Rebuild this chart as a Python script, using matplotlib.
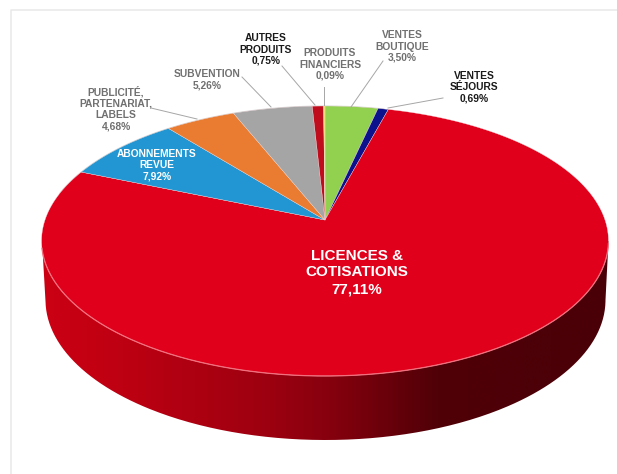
import numpy as np
import matplotlib
matplotlib.use("Agg")
import matplotlib.pyplot as plt
from matplotlib.patches import Polygon, PathPatch
from matplotlib.path import Path
from matplotlib.colors import LinearSegmentedColormap

plt.rcParams['font.family'] = ['Liberation Sans', 'DejaVu Sans']

# ---- data, clockwise from the top of the pie ----
categories = ["VENTES\nBOUTIQUE", "VENTES\nSÉJOURS", "LICENCES &\nCOTISATIONS",
              "ABONNEMENTS\nREVUE", "PUBLICITÉ,\nPARTENARIAT,\nLABELS", "SUBVENTION",
              "AUTRES\nPRODUITS", "PRODUITS\nFINANCIERS"]
values = [3.50, 0.69, 77.11, 7.92, 4.68, 5.26, 0.75, 0.09]
value_labels = ["3,50%", "0,69%", "77,11%", "7,92%", "4,68%", "5,26%", "0,75%", "0,09%"]
colors = ["#92D050", "#0B128C", "#E0001B", "#2196D2", "#E97C30", "#A5A5A5", "#C00D1E", "#F5E46B"]

# ---- layout ----
label_pos = [(402, 46.5), (474, 87), (357, 272.5), (157, 165.5), (116, 108.5), (207, 79.5), (266, 49.5), (330, 64.5)]
label_col = ["#707070", "#1A1A1A", "white", "white", "#707070", "#707070", "#1A1A1A", "#707070"]
label_size = [7.4, 7.4, 11, 7.4, 7.4, 7.4, 7.4, 7.4]
leaders = [((383, 61), (351, 107)), ((443, 98), (388, 108)), None, None,
           ((151, 108), (197, 119)), ((242, 77), (271, 107)), ((282, 66), (315, 105)), ((324, 87), (324, 105))]

CX, APEX_Y, K = 325.0, 220.0, 280.0      # centre of the disc in perspective
A, C = -97.5, 42 / 270                   # perspective terms

def project(theta):
    """theta in radians, clockwise from the far side of the disc."""
    u, v = np.sin(theta), np.cos(theta)
    w = 1 + C * v
    return CX + K * u / w, (A * v + APEX_Y) / w

fig = plt.figure(figsize=(6.17, 4.74), dpi=100, facecolor="white")
ax = fig.add_axes([0, 0, 1, 1])
ax.set_xlim(0, 617)
ax.set_ylim(474, 0)
ax.axis("off")

# frame of the original picture
ax.plot([10.5, 10.5, 617], [474, 10, 10], color="#E8E8E8", lw=1.1, zorder=0, solid_capstyle="butt")

# ---- side wall with horizontal shading ----
side_cmap = LinearSegmentedColormap.from_list("side", [
    (0.00, "#CC0014"), (0.15, "#BC0012"), (0.40, "#9C0010"), (0.50, "#88000E"),
    (0.62, "#66000A"), (0.70, "#500007"), (1.00, "#4A0007")])
grad = np.linspace(0, 1, 400)[None, :]
t = np.linspace(0, np.pi, 300)
wall_x = np.r_[42.0, 325.5 - 280 * np.cos(t), 608.5]
wall_y = np.r_[241.0, 300 + 140 * np.sin(t), 241.0]
im = ax.imshow(grad, extent=(42, 609, 474, 0), cmap=side_cmap, aspect="auto", zorder=1, interpolation="bilinear")
clip = PathPatch(Path(np.c_[wall_x, wall_y]), transform=ax.transData, fc="none", ec="none")
ax.add_patch(clip)
im.set_clip_path(clip)
ax.set_xlim(0, 617)
ax.set_ylim(474, 0)

# ---- top face ----
edges = np.radians(np.r_[0, np.cumsum(values)] * 3.6)
for i, col in enumerate(colors):
    th = np.linspace(edges[i], edges[i + 1], max(4, int(values[i] * 8)))
    px, py = project(th)
    ax.add_patch(Polygon(np.c_[np.r_[CX, px], np.r_[APEX_Y, py]], closed=True, fc=col,
                         ec="#F0D8DA", lw=0.25, zorder=2, joinstyle="round"))

# rim highlight on the near edge
th = np.linspace(np.radians(100), np.radians(258), 300)
rx, ry = project(th)
ax.plot(rx, ry, color="#F2707E", lw=0.9, zorder=3)
th = np.linspace(np.radians(-78), np.radians(14), 200)
rx, ry = project(th)
ax.plot(rx, ry, color="#D9D9D9", lw=0.8, zorder=1.5)

# ---- leaders and labels ----
for seg in leaders:
    if seg:
        ax.plot([seg[0][0], seg[1][0]], [seg[0][1], seg[1][1]], color="#A6A6A6", lw=0.7, zorder=4)

for name, val, (x, y), c, s in zip(categories, value_labels, label_pos, label_col, label_size):
    ax.text(x, y, name + "\n" + val, ha="center", va="center", color=c, fontsize=s,
            fontweight="bold", linespacing=1.18 if s < 9 else 1.23, zorder=5)

fig.savefig("out.png", dpi=100, facecolor="white")
